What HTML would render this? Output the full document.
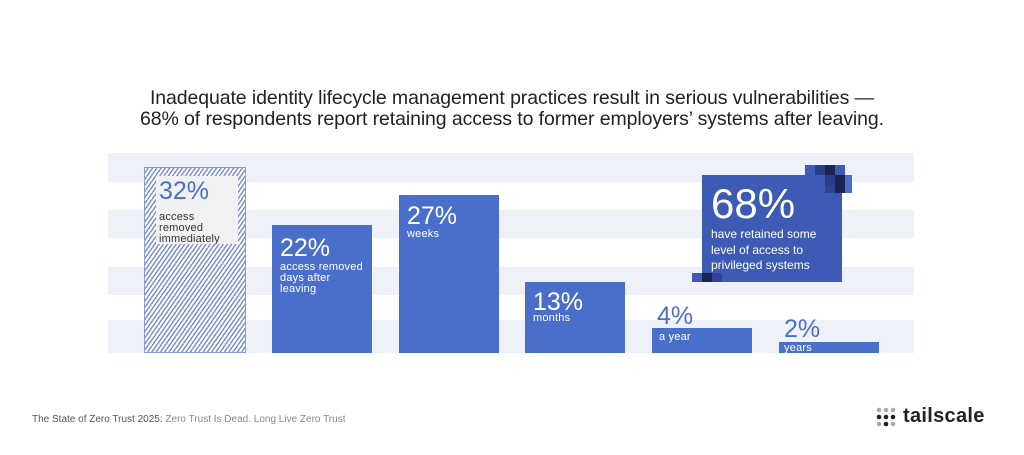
<!DOCTYPE html>
<html><head><style>
body{margin:0;width:1024px;height:455px;background:#fff;font-family:"Liberation Sans",sans-serif;position:relative;overflow:hidden}
.a{position:absolute}
.band{position:absolute;left:108px;width:806px;background:#eff1f8}
.bar{position:absolute;background:#4a6fcb;color:#fff}
.big{font-size:25px;line-height:26px}
.sm{font-size:11px;line-height:11px;letter-spacing:0.2px}
.sq{position:absolute;width:10px;height:10px}
</style></head><body>
<div class="a" style="left:0;width:1024px;top:88px;text-align:center;font-size:19.5px;line-height:21px;color:#222;letter-spacing:-0.1px">Inadequate identity lifecycle management practices result in serious vulnerabilities —<br>68% of respondents report retaining access to former employers’ systems after leaving.</div>
<div class="band" style="top:153px;height:29px"></div>
<div class="band" style="top:210px;height:28px"></div>
<div class="band" style="top:267px;height:28px"></div>
<div class="band" style="top:320px;height:33px"></div>

<div class="a" style="left:144px;top:167px;width:100px;height:184px;border:1px solid #8a9dd6;background:repeating-linear-gradient(-55deg,#fff 0 2px,#7d91cf 2px 3.5px)"></div>
<div class="a" style="left:156px;top:176px;width:82px;height:68px;background:#f1f1f1"></div>
<div class="a big" style="left:159px;top:178px;color:#4a6fcb">32%</div>
<div class="a sm" style="left:159px;top:212px;color:#333">access<br>removed<br>immediately</div>

<div class="bar" style="left:272px;top:225px;width:100px;height:128px"><div class="big" style="margin:10px 0 0 8px">22%</div><div class="sm" style="margin:1px 0 0 8px">access removed<br>days after<br>leaving</div></div>
<div class="bar" style="left:399px;top:195px;width:100px;height:158px"><div class="big" style="margin:8px 0 0 8px">27%</div><div class="sm" style="margin:0 0 0 8px">weeks</div></div>
<div class="bar" style="left:525px;top:282px;width:100px;height:71px"><div class="big" style="margin:7px 0 0 8px">13%</div><div class="sm" style="margin:-2px 0 0 8px">months</div></div>
<div class="a big" style="left:657px;top:303px;color:#4a6fcb">4%</div>
<div class="bar" style="left:652px;top:328px;width:100px;height:25px"><div class="sm" style="margin:4px 0 0 7px">a year</div></div>
<div class="a big" style="left:784px;top:316px;color:#4a6fcb">2%</div>
<div class="bar" style="left:779px;top:342px;width:100px;height:11px"><div class="sm" style="margin:0 0 0 5px;line-height:13px">years</div></div>

<div class="a" style="left:702px;top:175px;width:140px;height:107px;background:#3d5bb5;color:#fff">
<div style="font-size:42px;line-height:42px;margin:8px 0 0 9px">68%</div>
<div style="font-size:12px;line-height:15.5px;margin:2px 0 0 9px">have retained some<br>level of access to<br>privileged systems</div></div>
<div class="sq" style="left:805px;top:165px;background:#3f5db8"></div>
<div class="sq" style="left:815px;top:165px;background:#2a3f8a"></div>
<div class="sq" style="left:825px;top:165px;background:#1a2550"></div>
<div class="sq" style="left:835px;top:165px;background:#3d5bb5"></div>
<div class="sq" style="left:825px;top:175px;background:#2a3f8a"></div>
<div class="sq" style="left:835px;top:175px;background:#1a2550"></div>
<div class="sq" style="left:845px;top:175px;width:7px;background:#4a6fcb"></div>
<div class="sq" style="left:825px;top:185px;height:8px;background:#2f4590"></div>
<div class="sq" style="left:835px;top:185px;height:8px;background:#1a2550"></div>
<div class="sq" style="left:845px;top:185px;width:7px;height:8px;background:#4a6fcb"></div>
<div class="sq" style="left:692px;top:273px;height:9px;background:#3d5bb5"></div>
<div class="sq" style="left:702px;top:273px;height:9px;background:#1a2550"></div>
<div class="sq" style="left:712px;top:273px;height:9px;background:#2f4590"></div>

<div class="a" style="left:32px;top:414px;font-size:10px;color:#888"><span style="color:#555">The State of Zero Trust 2025:</span> Zero Trust Is Dead. Long Live Zero Trust</div>
<svg class="a" style="left:876px;top:407px" width="24" height="24">
<g fill="#aaa"><circle cx="3" cy="3" r="2.3"/><circle cx="10" cy="3" r="2.3"/><circle cx="17" cy="3" r="2.3"/><circle cx="3" cy="17" r="2.3"/><circle cx="17" cy="17" r="2.3"/></g>
<g fill="#222"><circle cx="3" cy="10" r="2.3"/><circle cx="10" cy="10" r="2.3"/><circle cx="17" cy="10" r="2.3"/><circle cx="10" cy="17" r="2.3"/></g></svg>
<div class="a" style="left:903px;top:405px;font-size:20px;font-weight:bold;color:#222;letter-spacing:0.3px">tailscale</div>
</body></html>
